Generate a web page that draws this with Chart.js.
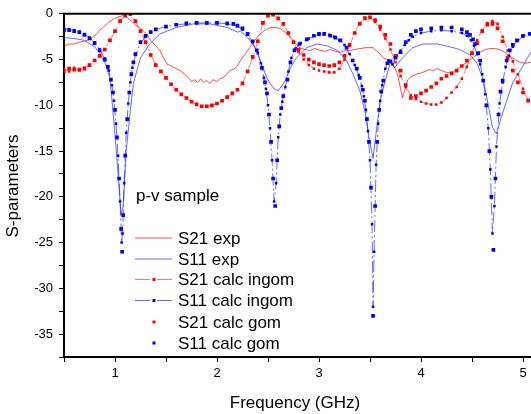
<!DOCTYPE html>
<html><head><meta charset="utf-8">
<script src="https://cdn.jsdelivr.net/npm/chart.js@4.4.1/dist/chart.umd.min.js"></script>
<style>
html,body{margin:0;padding:0;background:#fff;overflow:hidden;width:531px;height:414px}
#wrap{position:relative;width:600px;height:414px}
</style></head><body>
<div id="wrap"><canvas id="c" width="600" height="414"></canvas></div>
<script>
// ---------- data ----------
const freqS21Exp = [0.50,0.55,0.60,0.65,0.70,0.75,0.78,0.82,0.86,0.90,0.95,1.00,1.04,1.08,1.12,1.16,1.20,1.25,1.31,1.35,1.40,1.44,1.48,1.51,1.55,1.60,1.64,1.68,1.72,1.75,1.78,1.81,1.84,1.87,1.90,1.93,1.96,2.00,2.03,2.07,2.10,2.13,2.17,2.20,2.23,2.27,2.32,2.37,2.42,2.47,2.52,2.57,2.62,2.67,2.72,2.77,2.81,2.86,2.91,2.96,3.01,3.06,3.11,3.16,3.21,3.26,3.30,3.35,3.40,3.46,3.53,3.58,3.63,3.67,3.70,3.74,3.77,3.80,3.82,3.84,3.87,3.90,3.95,3.99,4.04,4.08,4.12,4.16,4.20,4.25,4.31,4.36,4.41,4.48,4.53,4.58,4.63,4.68,4.73,4.77,4.82,4.87,4.92,4.97,5.02,5.07,5.12];
const s21Exp = [-3.5,-3.3,-3.3,-3.1,-3.0,-2.8,-2.6,-2.2,-1.7,-1.3,-0.8,-0.5,-0.3,-0.2,-0.4,-0.8,-1.2,-1.6,-2.2,-2.9,-3.5,-4.0,-4.9,-5.5,-5.7,-6.0,-6.2,-6.6,-7.0,-7.4,-7.2,-7.5,-7.1,-7.5,-7.3,-7.6,-7.2,-7.4,-7.1,-6.9,-6.5,-6.2,-6.0,-5.7,-5.1,-4.5,-3.7,-2.9,-2.2,-1.8,-1.5,-1.5,-1.6,-2.0,-2.6,-3.2,-3.7,-3.9,-4.0,-3.8,-4.0,-4.1,-3.9,-4.1,-4.2,-4.0,-4.0,-3.9,-3.8,-3.7,-3.7,-4.2,-4.8,-5.0,-5.1,-5.8,-6.6,-8.2,-9.2,-8.4,-7.2,-6.9,-6.6,-6.5,-6.3,-6.1,-6.2,-6.0,-6.2,-6.4,-6.4,-6.0,-5.6,-5.1,-4.6,-4.2,-3.9,-3.8,-3.8,-3.9,-4.2,-4.6,-5.0,-5.3,-5.4,-5.3,-5.0];

const freqS11Exp = [0.50,0.60,0.70,0.80,0.85,0.90,0.95,0.98,1.02,1.06,1.08,1.11,1.15,1.18,1.25,1.34,1.44,1.60,1.77,1.93,2.10,2.20,2.23,2.30,2.35,2.40,2.45,2.49,2.52,2.56,2.60,2.64,2.67,2.72,2.78,2.88,2.98,3.08,3.18,3.27,3.33,3.40,3.45,3.49,3.53,3.56,3.60,3.65,3.70,3.74,3.82,3.92,4.02,4.16,4.28,4.38,4.48,4.55,4.61,4.66,4.70,4.74,4.79,4.84,4.90,5.00,5.07,5.12];
const s11Exp = [-2.6,-2.7,-2.9,-3.6,-4.3,-5.3,-7.0,-10.6,-16.0,-22.0,-21.0,-15.0,-10.6,-7.6,-4.8,-3.3,-2.2,-1.5,-1.1,-1.1,-1.5,-2.0,-1.9,-2.6,-3.3,-4.4,-5.9,-7.0,-7.6,-8.2,-8.4,-7.8,-7.3,-5.9,-4.8,-3.7,-3.3,-3.5,-4.0,-5.1,-6.5,-8.4,-10.6,-13.5,-15.8,-13.0,-9.5,-7.3,-5.3,-5.9,-4.8,-3.7,-3.3,-3.3,-3.6,-3.9,-4.5,-5.4,-7.2,-10.0,-12.4,-13.1,-11.2,-9.5,-7.5,-5.7,-4.3,-3.8];

const freqS21Ingom = [0.50,0.55,0.60,0.65,0.70,0.75,0.80,0.85,0.90,0.95,1.00,1.05,1.10,1.15,1.20,1.25,1.30,1.35,1.40,1.45,1.50,1.55,1.60,1.65,1.70,1.75,1.80,1.85,1.90,1.95,2.00,2.05,2.10,2.15,2.20,2.25,2.30,2.35,2.40,2.45,2.50,2.55,2.60,2.65,2.70,2.75,2.80,2.85,2.90,2.95,3.00,3.05,3.10,3.15,3.20,3.25,3.30,3.35,3.40,3.45,3.50,3.55,3.60,3.65,3.70,3.75,3.80,3.85,3.90,3.95,4.00,4.05,4.10,4.15,4.20,4.25,4.30,4.35,4.40,4.45,4.50,4.55,4.60,4.65,4.70,4.75,4.80,4.85,4.90,4.95,5.00,5.05,5.10];
const s21Ingom = [-6.0,-6.3,-5.9,-6.2,-5.9,-5.6,-5.1,-4.6,-3.9,-2.9,-1.9,-0.8,-0.2,-0.1,-0.8,-1.9,-3.1,-4.5,-5.6,-6.3,-7.0,-7.7,-8.3,-8.8,-9.2,-9.6,-9.9,-10.1,-10.1,-10.0,-9.8,-9.5,-9.1,-8.7,-8.3,-7.6,-6.3,-4.8,-3.0,-1.0,-0.2,-0.1,-0.5,-1.1,-2.1,-3.1,-4.2,-5.0,-5.6,-6.0,-6.2,-6.3,-6.4,-6.4,-6.0,-5.0,-3.5,-2.1,-1.0,-0.4,-0.4,-0.9,-1.7,-2.7,-3.9,-5.3,-6.8,-8.0,-8.9,-9.3,-9.6,-9.8,-9.9,-9.9,-9.7,-9.2,-8.6,-8.0,-7.1,-5.8,-4.3,-2.9,-1.8,-1.0,-0.8,-1.1,-2.5,-4.0,-5.2,-6.6,-8.2,-9.4,-10.3];

const freqS11Ingom = [0.50,0.55,0.60,0.65,0.70,0.75,0.80,0.85,0.90,0.94,0.97,0.99,1.01,1.03,1.05,1.065,1.075,1.09,1.11,1.13,1.15,1.17,1.20,1.25,1.30,1.35,1.40,1.50,1.60,1.70,1.80,1.90,2.00,2.10,2.20,2.25,2.30,2.35,2.40,2.43,2.46,2.48,2.50,2.52,2.54,2.56,2.58,2.60,2.62,2.64,2.67,2.70,2.73,2.77,2.82,2.90,3.00,3.10,3.15,3.20,3.25,3.30,3.35,3.39,3.42,3.44,3.46,3.48,3.50,3.52,3.53,3.54,3.56,3.58,3.60,3.62,3.65,3.68,3.72,3.76,3.80,3.84,3.88,3.92,4.00,4.10,4.20,4.30,4.40,4.45,4.49,4.52,4.55,4.58,4.60,4.63,4.66,4.68,4.70,4.72,4.74,4.77,4.80,4.83,4.86,4.90,4.95,5.00,5.06,5.12];
const s11Ingom = [-1.6,-1.7,-1.8,-2.0,-2.2,-2.6,-3.1,-3.9,-4.9,-6.2,-7.8,-9.5,-12.0,-15.5,-20.5,-25.0,-24.0,-18.5,-13.0,-9.8,-7.5,-5.9,-4.5,-3.2,-2.5,-2.0,-1.7,-1.4,-1.2,-1.1,-1.0,-1.0,-1.0,-1.1,-1.35,-1.7,-2.3,-3.1,-4.3,-5.4,-7.0,-8.2,-10.0,-12.5,-16.0,-20.5,-18.5,-13.5,-11.0,-9.6,-8.0,-6.3,-4.8,-3.8,-3.2,-2.7,-2.3,-2.3,-2.5,-2.9,-3.4,-4.4,-5.6,-6.7,-7.9,-9.0,-10.5,-12.8,-16.0,-23.0,-32.0,-26.0,-16.5,-12.0,-9.5,-7.8,-6.0,-5.1,-5.5,-4.6,-4.0,-3.4,-2.9,-2.5,-2.1,-1.9,-1.8,-1.9,-2.1,-2.4,-2.9,-3.5,-4.4,-5.5,-6.6,-8.8,-12.5,-17.0,-24.0,-21.0,-14.5,-9.8,-7.5,-5.8,-4.6,-3.6,-2.9,-2.5,-2.2,-2.0];

const freqS21Gom = [0.50,0.55,0.60,0.65,0.70,0.75,0.80,0.85,0.90,0.95,1.00,1.05,1.10,1.15,1.20,1.25,1.30,1.35,1.40,1.45,1.50,1.55,1.60,1.65,1.70,1.75,1.80,1.85,1.90,1.95,2.00,2.05,2.10,2.15,2.20,2.25,2.30,2.35,2.40,2.45,2.50,2.55,2.60,2.65,2.70,2.75,2.80,2.85,2.90,2.95,3.00,3.05,3.10,3.15,3.20,3.25,3.30,3.35,3.40,3.45,3.50,3.55,3.60,3.65,3.70,3.75,3.80,3.85,3.90,3.95,4.00,4.05,4.10,4.15,4.20,4.25,4.30,4.35,4.40,4.45,4.50,4.55,4.60,4.65,4.70,4.75,4.80,4.85,4.90,4.95,5.00,5.05,5.10];
const s21Gom = [-6.3,-6.0,-6.1,-6.1,-6.0,-5.6,-5.1,-4.6,-3.9,-2.9,-1.9,-0.8,-0.2,0.0,-0.8,-1.9,-3.1,-4.5,-5.6,-6.3,-7.0,-7.7,-8.3,-8.8,-9.2,-9.6,-9.9,-10.1,-10.1,-10.0,-9.8,-9.5,-9.1,-8.7,-8.3,-7.6,-6.3,-4.7,-3.0,-1.0,-0.2,-0.1,-0.5,-1.1,-2.1,-3.1,-3.9,-4.5,-5.0,-5.3,-5.5,-5.6,-5.7,-5.6,-5.3,-4.6,-3.4,-2.1,-1.1,-0.5,-0.4,-0.7,-1.4,-2.3,-3.3,-4.6,-6.2,-7.8,-9.2,-9.0,-8.7,-8.4,-8.0,-7.6,-7.1,-6.8,-6.5,-6.2,-5.7,-5.1,-4.3,-3.2,-1.9,-1.2,-1.1,-1.6,-3.0,-4.8,-6.2,-7.5,-8.6,-9.5,-10.2];

const freqS11Gom = [0.50,0.55,0.60,0.65,0.70,0.75,0.80,0.85,0.90,0.93,0.96,0.98,1.00,1.02,1.04,1.06,1.07,1.08,1.10,1.12,1.14,1.16,1.18,1.20,1.25,1.30,1.35,1.40,1.50,1.60,1.70,1.80,1.90,2.00,2.10,2.16,2.20,2.25,2.30,2.35,2.39,2.44,2.47,2.49,2.51,2.53,2.55,2.57,2.59,2.61,2.63,2.65,2.69,2.72,2.76,2.81,2.88,2.95,3.00,3.05,3.11,3.16,3.21,3.27,3.33,3.37,3.40,3.43,3.45,3.47,3.49,3.51,3.53,3.55,3.57,3.59,3.61,3.63,3.67,3.70,3.75,3.80,3.85,3.90,3.95,4.00,4.10,4.20,4.30,4.40,4.45,4.48,4.51,4.53,4.56,4.58,4.61,4.64,4.67,4.69,4.71,4.73,4.76,4.78,4.80,4.84,4.87,4.90,4.94,5.00,5.07,5.12];
const s11Gom = [-1.8,-1.8,-1.9,-2.0,-2.3,-2.7,-3.2,-4.0,-5.0,-5.8,-7.2,-8.6,-10.5,-13.5,-18.0,-23.5,-26.0,-22.0,-15.5,-11.5,-8.6,-6.6,-5.3,-4.4,-3.1,-2.4,-2.0,-1.7,-1.4,-1.2,-1.05,-1.0,-1.0,-1.0,-1.05,-1.1,-1.3,-1.6,-2.2,-3.0,-4.0,-5.9,-7.5,-8.7,-11.0,-14.0,-18.0,-21.0,-16.0,-12.3,-10.3,-9.0,-7.2,-5.3,-4.0,-3.3,-2.8,-2.4,-2.2,-2.2,-2.4,-2.6,-2.9,-3.7,-5.1,-6.0,-7.0,-8.3,-9.5,-11.5,-14.0,-19.0,-33.0,-21.0,-14.0,-10.5,-8.5,-7.3,-5.4,-5.2,-4.8,-4.2,-3.1,-2.3,-1.9,-1.7,-1.6,-1.5,-1.5,-1.7,-2.0,-2.3,-2.8,-3.3,-4.3,-5.1,-7.3,-10.0,-15.0,-20.0,-25.8,-18.0,-11.0,-8.5,-7.3,-5.1,-4.0,-3.4,-2.9,-2.4,-2.2,-2.0];

const seriesNames = ['S21 exp','S11 exp','S21 calc ingom','S11 calc ingom','S21 calc gom','S11 calc gom'];
const xMajorTicks = [1,2,3,4,5];
const xMinorTicks = [0.5,1.5,2.5,3.5,4.5,5.5];
const yMajorTicks = [0,-5,-10,-15,-20,-25,-30,-35];
const yMinorTicks = [-2.5,-7.5,-12.5,-17.5,-22.5,-27.5,-32.5,-37.5];
const xTitle = 'Frequency (GHz)';
const yTitle = 'S-parameters';
const sampleLabel = 'p-v sample';

// ---------- chart ----------
const RED = '#ff0000', BLUE = '#0000ff';
const FONT = 'Arial, "Liberation Sans", sans-serif';
function pts(xs, ys){ return xs.map((x,i)=>({x:x, y:ys[i]})); }

const datasets = [
  {label:seriesNames[0], data:pts(freqS21Exp,s21Exp), showLine:true, borderColor:'rgba(255,0,0,0.7)', borderWidth:1, pointRadius:0, order:10, kind:'line'},
  {label:seriesNames[1], data:pts(freqS11Exp,s11Exp), showLine:true, borderColor:'rgba(20,20,255,0.65)', borderWidth:1, pointRadius:0, order:9, kind:'line'},
  {label:seriesNames[2], data:pts(freqS21Ingom,s21Ingom), showLine:true, borderColor:'rgba(255,0,0,0.55)', borderWidth:1, borderDash:[12,3,2,3], pointStyle:'rect', pointRadius:1.8, pointBorderWidth:0, pointBackgroundColor:RED, order:5, kind:'dashdot'},
  {label:seriesNames[3], data:pts(freqS11Ingom,s11Ingom), showLine:true, borderColor:'rgba(40,40,255,0.7)', borderWidth:1, borderDash:[12,3,2,3], pointStyle:'rect', pointRadius:1.8, pointBorderWidth:0, pointBackgroundColor:BLUE, order:4, kind:'dashdot'},
  {label:seriesNames[4], data:pts(freqS21Gom,s21Gom), showLine:false, pointStyle:'rect', pointRadius:2.6, pointBorderWidth:0, pointBackgroundColor:RED, borderColor:RED, order:2, kind:'dots'},
  {label:seriesNames[5], data:pts(freqS11Gom,s11Gom), showLine:false, pointStyle:'rect', pointRadius:2.6, pointBorderWidth:0, pointBackgroundColor:BLUE, borderColor:BLUE, order:1, kind:'dots'}
];

const decor = {
  id:'decor',
  afterDraw(chart){
    const ctx = chart.ctx, a = chart.chartArea;
    ctx.save();
    ctx.strokeStyle = '#000'; ctx.lineWidth = 2;
    ctx.beginPath(); ctx.moveTo(a.left-1, a.top); ctx.lineTo(a.right, a.top); ctx.stroke();
    ctx.fillStyle = '#000';
    ctx.font = '17px ' + FONT;
    ctx.textAlign = 'center'; ctx.textBaseline = 'middle';
    ctx.fillText(xTitle, 295, 403);
    ctx.save(); ctx.translate(13, 186); ctx.rotate(-Math.PI/2); ctx.fillText(yTitle, 0, 0); ctx.restore();
    ctx.textAlign = 'left';
    ctx.fillText(sampleLabel, 136, 196);
    const rows = [238, 259, 279.5, 300.5, 322, 343];
    chart.data.datasets.forEach((ds, i) => {
      const y = rows[i];
      const x0 = 135, x1 = 172;
      ctx.save();
      if (ds.kind === 'line') {
        ctx.strokeStyle = ds.borderColor; ctx.lineWidth = 1;
        ctx.beginPath(); ctx.moveTo(x0, y); ctx.lineTo(x1, y); ctx.stroke();
      } else if (ds.kind === 'dashdot') {
        ctx.strokeStyle = ds.borderColor; ctx.lineWidth = 1;
        ctx.beginPath(); ctx.moveTo(x0, y); ctx.lineTo(x0+15, y); ctx.moveTo(x1-15, y); ctx.lineTo(x1, y); ctx.stroke();
        ctx.fillStyle = ds.pointBackgroundColor; ctx.fillRect(152.5, y-1.5, 3, 3);
      } else {
        ctx.fillStyle = ds.pointBackgroundColor; ctx.fillRect(152.5, y-1.5, 3, 3);
      }
      ctx.restore();
      ctx.fillStyle = '#000'; ctx.font = '17px ' + FONT; ctx.textAlign = 'left'; ctx.textBaseline = 'middle';
      ctx.fillText(ds.label, 178, y + 1);
    });
    ctx.restore();
  }
};

new Chart(document.getElementById('c'), {
  type:'scatter',
  data:{datasets:datasets},
  options:{
    responsive:false, animation:false, devicePixelRatio:1,
    layout:{padding:{top:13, right:26, left:0, bottom:0}},
    plugins:{legend:{display:false}, tooltip:{enabled:false}},
    scales:{
      x:{type:'linear', min:0.5, max:5.5,
        afterBuildTicks:(s)=>{ s.ticks = xMinorTicks.concat(xMajorTicks).sort((p,q)=>p-q).map(v=>({value:v})); },
        afterFit:(s)=>{ s.height = 57; },
        ticks:{autoSkip:false, maxRotation:0, padding:4, color:'#000', font:{family:FONT, size:13},
          callback:(v)=> xMajorTicks.includes(v) ? String(v) : ''},
        grid:{drawOnChartArea:false, drawTicks:true, tickLength:5, color:'#000', lineWidth:1},
        border:{display:true, color:'#000', width:2}
      },
      y:{type:'linear', min:-37.5, max:0,
        afterBuildTicks:(s)=>{ s.ticks = yMinorTicks.concat(yMajorTicks).sort((p,q)=>p-q).map(v=>({value:v})); },
        afterFit:(s)=>{ s.width = 64; },
        ticks:{autoSkip:false, padding:6, color:'#000', font:{family:FONT, size:13},
          callback:(v)=> yMajorTicks.includes(v) ? String(v) : ''},
        grid:{drawOnChartArea:false, drawTicks:true, tickLength:5, color:'#000', lineWidth:1},
        border:{display:true, color:'#000', width:2}
      }
    }
  },
  plugins:[decor]
});
</script>
</body></html>
